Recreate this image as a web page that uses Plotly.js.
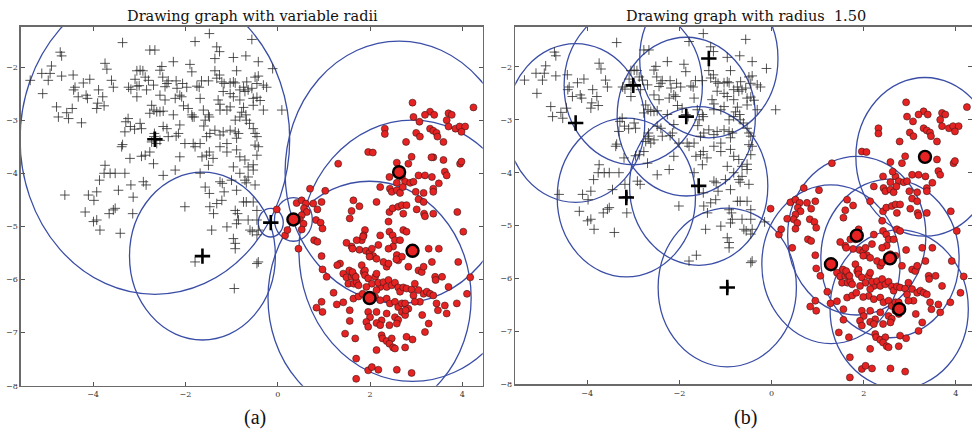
<!DOCTYPE html>
<html>
<head>
<meta charset="utf-8">
<script src="https://cdn.plot.ly/plotly-3.0.1.min.js"></script>
<style>html,body{margin:0;padding:0;background:#fff;}#chart{width:972px;height:434px;}</style>
</head>
<body>
<div id="chart"></div>
<script>
// ---- data: class "+" points (x, y) ----
const plusX = [-1.48,-3.36,-1.79,-0.56,-1.32,-1.26,-2.77,-2.66,-4.71,-4.68,-1.36,-0.96,-0.69,-0.42,-2.26,-1.90,-3.74,-4.90,-0.11,-2.51,
-5.36,-5.11,-4.93,-4.97,-4.68,-4.43,-4.39,-4.42,-4.21,-4.07,-4.15,-4.12,-5.09,-3.70,-3.60,-3.56,-3.88,-3.79,-3.05,-2.98,-2.92,-3.09,-3.23,-3.18,-3.05,-2.87,-2.80,-2.69,-2.84,-2.55,-2.49,-2.40,-2.44,-2.37,-2.20,-2.18,-2.06,-1.97,-1.86,-1.75,-1.70,-1.65,-1.50,-1.36,-1.32,-1.26,-1.21,-1.16,-1.03,-0.96,-0.92,-0.89,-0.74,-0.67,-0.64,-0.49,-0.42,-0.45,-0.24,-0.31,-0.82,-0.71,-0.56,
-4.79,-4.75,-4.53,-4.57,-4.45,-4.32,-3.92,-3.90,-3.76,-3.05,-2.73,-2.68,-2.62,-2.55,-2.48,-2.77,-2.44,-2.55,-2.22,-2.08,-2.04,-2.26,-2.12,-1.94,-1.86,-1.81,-1.68,-1.50,-1.48,-1.61,-1.29,-1.25,-1.25,-1.18,-1.03,-0.96,-1.03,-1.10,-0.82,-0.74,-0.69,-0.78,-0.53,-0.45,-0.38,-0.31,0.09,-0.53,-0.82,
-4.25,-3.24,-3.29,-3.19,-3.10,-3.31,-3.38,-3.36,-2.98,-2.95,-2.66,-2.68,-2.67,-2.48,-2.40,-2.37,-2.55,-2.62,-2.73,-2.20,-2.15,-2.12,-2.01,-1.83,-1.68,-1.60,-1.57,-1.54,-1.47,-1.36,-1.25,-1.18,-1.03,-0.92,-0.85,-0.89,-1.10,-0.53,-0.49,-0.45,-0.42,-0.49,-0.61,-0.68,-0.92,
-2.77,-2.95,-2.87,-3.20,-2.69,-3.74,-3.76,-3.63,-3.52,-3.31,-2.48,-2.22,-2.12,-1.79,-1.54,-1.48,-1.64,-1.40,-1.50,-1.68,-1.10,-1.25,-0.89,-0.82,-0.71,-0.64,-0.53,-0.45,-0.53,-0.96,-0.82,
-2.91,-2.85,-3.18,-3.13,-3.45,-3.86,-3.92,-3.98,-4.10,-4.61,-1.57,-1.48,-1.20,-1.16,-1.25,-0.71,-0.64,-0.68,-0.74,-0.68,-1.00,-0.89,-0.49,
-4.17,-3.92,-3.99,-3.85,-3.65,-3.56,-3.52,-3.41,-3.14,-2.01,-1.47,-1.39,-1.32,-1.43,-1.21,-1.10,-0.92,-0.87,-0.89,-0.85,-0.64,-0.60,-0.45,-0.42,-0.45,-0.53,
-0.96,-0.92,-0.92,-0.45,-0.45,-0.42,-1.79,-0.94,-0.55,-1.63,-0.15,-3.00,-1.85];
const plusY = [-1.37,-1.54,-1.52,-1.48,-1.62,-1.71,-1.68,-1.68,-1.72,-1.79,-1.84,-1.82,-1.79,-1.90,-1.90,-1.95,-1.93,-1.98,-2.03,-1.99,
-2.25,-2.12,-2.12,-2.25,-2.17,-2.15,-2.38,-2.43,-2.30,-2.23,-2.53,-2.59,-2.50,-2.04,-2.25,-2.38,-2.43,-2.56,-2.07,-2.06,-2.07,-2.23,-2.38,-2.42,-2.36,-2.19,-2.25,-2.34,-2.43,-2.06,-2.19,-2.31,-2.37,-2.26,-2.26,-2.40,-2.31,-2.38,-2.09,-2.36,-2.38,-2.26,-2.26,-2.07,-2.21,-2.15,-2.28,-2.31,-2.30,-2.28,-2.30,-2.07,-2.38,-2.28,-2.43,-2.19,-2.17,-2.31,-2.38,-2.34,-2.43,-2.46,-2.40,
-2.75,-2.94,-2.97,-2.86,-2.78,-2.56,-2.78,-2.68,-2.73,-2.56,-2.72,-2.81,-2.84,-2.84,-2.83,-2.87,-2.62,-2.53,-2.59,-2.56,-2.73,-2.90,-2.53,-2.78,-2.90,-2.94,-2.59,-2.90,-2.94,-2.81,-2.62,-2.70,-2.81,-2.46,-2.50,-2.56,-2.75,-2.81,-2.62,-2.76,-2.90,-2.85,-2.59,-2.57,-2.63,-2.81,-2.81,-2.72,-2.94,
-3.05,-2.97,-3.03,-3.12,-3.17,-3.22,-3.50,-3.46,-3.06,-3.16,-3.36,-3.31,-3.25,-3.12,-3.16,-3.31,-3.38,-3.44,-3.41,-3.30,-3.25,-3.09,-3.44,-3.44,-3.44,-3.11,-3.00,-3.31,-3.25,-3.19,-3.28,-3.22,-3.19,-3.22,-3.25,-3.34,-3.44,-3.16,-3.25,-3.31,-3.50,-3.47,-3.06,-3.00,-3.00,
-3.60,-3.68,-3.66,-3.72,-3.82,-3.85,-4.00,-4.00,-4.00,-4.00,-4.04,-3.94,-3.69,-3.50,-3.66,-3.60,-3.69,-3.72,-3.85,-4.00,-3.60,-3.50,-3.56,-3.69,-3.75,-3.88,-3.84,-3.66,-3.94,-3.88,-4.00,
-4.16,-4.22,-4.22,-4.45,-4.32,-4.13,-4.35,-4.51,-4.41,-4.41,-4.26,-4.38,-4.19,-4.35,-4.16,-4.13,-4.07,-4.18,-4.54,-4.54,-4.13,-4.32,-4.22,
-4.73,-4.88,-4.91,-5.07,-4.76,-4.69,-4.66,-5.13,-4.76,-4.63,-4.63,-4.76,-4.57,-5.07,-4.51,-5.01,-4.70,-4.76,-4.95,-4.88,-4.88,-5.07,-4.88,-5.07,-4.70,-4.54,
-5.23,-5.32,-5.42,-5.16,-5.70,-5.67,-5.67,-6.17,-5.10,-5.56,-4.93,-2.35,-2.94];

// ---- data: class "o" points (x, y) ----
const dotX = [2.92,4.24,3.30,3.39,3.19,2.94,3.70,3.77,3.07,3.66,3.70,3.85,3.94,4.06,3.98,2.32,2.32,3.00,3.08,3.30,3.37,3.44,3.46,3.59,2.78,1.96,2.06,2.90,3.37,3.59,3.95,3.98,1.31,2.58,2.83,3.62,3.66,3.05,3.19,3.34,3.49,2.42,2.69,2.76,2.87,2.94,2.58,2.22,2.43,2.47,2.58,2.65,2.71,2.99,3.16,3.37,3.37,0.70,1.03,3.05,3.16,2.14,1.64,1.77,1.60,1.56,2.42,2.49,2.61,2.69,2.79,3.01,3.17,3.19,3.37,3.89,2.72,2.40,2.72,2.79,2.42,2.49,2.54,2.65,4.02,2.18,2.50,2.40,1.89,1.86,1.82,1.71,1.60,1.77,1.91,1.99,2.07,2.14,1.99,2.58,2.61,2.69,2.36,2.29,2.83,3.05,3.12,3.16,3.27,3.49,3.34,3.91,3.41,3.56,3.42,3.70,4.17,4.10,
1.42,1.49,1.60,1.65,1.53,1.65,1.71,1.75,1.82,1.86,1.89,1.89,1.96,2.11,2.14,2.04,1.92,2.22,2.18,2.14,2.29,2.36,2.40,2.47,2.54,2.61,2.65,2.72,2.79,2.90,2.97,3.05,2.94,3.08,3.16,3.23,3.30,3.37,3.44,3.47,3.66,3.62,3.88,1.21,1.28,1.42,1.56,1.56,0.84,0.95,0.97,1.64,1.75,1.84,2.11,2.22,2.36,2.43,2.54,2.61,2.69,2.76,2.83,2.97,2.69,2.76,2.54,2.61,2.36,2.25,2.14,1.96,2.00,1.92,1.96,2.14,2.22,2.42,2.58,3.13,3.27,3.19,1.68,1.70,2.25,2.27,2.36,2.47,2.42,2.50,2.54,2.14,2.76,2.79,2.92,1.96,2.04,2.18,2.58,2.90,1.70,1.46,
-0.02,0.16,0.21,0.41,0.52,0.61,0.57,0.63,0.52,0.48,0.56,0.52,0.45,0.77,0.86,0.95,0.83,0.93,0.97,0.79,0.86,0.95,0.97,1.06,1.35,1.49,1.62,1.55,1.62,1.69,2.04,2.40,2.22,
0.34,2.63,2.92,1.99,3.33,1.85,2.57,1.29,2.77];
const dotY = [-2.67,-2.76,-2.84,-2.90,-2.90,-2.94,-2.87,-2.90,-3.03,-3.00,-3.12,-3.16,-3.12,-3.12,-3.22,-3.16,-3.26,-3.24,-3.31,-3.16,-3.20,-3.24,-3.31,-3.41,-3.41,-3.60,-3.61,-3.69,-3.70,-3.75,-3.82,-3.78,-3.82,-3.80,-3.82,-3.97,-4.04,-4.04,-4.04,-4.07,-4.19,-4.07,-4.07,-4.16,-4.18,-4.16,-4.18,-4.26,-4.29,-4.35,-4.32,-4.37,-4.26,-4.35,-4.37,-4.29,-4.35,-4.29,-4.33,-4.49,-4.54,-4.54,-4.51,-4.62,-4.71,-4.85,-4.73,-4.66,-4.63,-4.60,-4.60,-4.68,-4.76,-4.81,-4.76,-4.73,-4.76,-4.91,-5.07,-5.10,-5.10,-5.17,-5.26,-5.26,-5.10,-5.35,-5.38,-5.42,-5.07,-5.17,-5.26,-5.26,-5.38,-5.44,-5.46,-5.50,-5.56,-5.61,-5.57,-5.54,-5.64,-5.57,-5.76,-5.67,-5.76,-5.83,-5.86,-5.76,-5.42,-5.42,-5.67,-5.67,-5.95,-5.95,-6.01,-6.14,-5.96,-6.27,
-5.89,-5.96,-5.95,-5.92,-6.08,-6.08,-6.05,-6.11,-5.73,-5.86,-5.83,-5.92,-5.98,-5.95,-5.89,-6.08,-6.14,-6.14,-6.06,-6.20,-6.05,-6.14,-6.01,-6.11,-6.06,-6.15,-6.23,-6.15,-6.17,-6.19,-6.08,-6.20,-6.30,-6.42,-6.27,-6.23,-6.27,-6.30,-6.45,-6.58,-6.64,-6.49,-6.45,-6.25,-6.47,-6.43,-6.58,-6.78,-6.53,-6.42,-6.61,-6.36,-6.32,-6.27,-6.33,-6.39,-6.36,-6.45,-6.42,-6.52,-6.45,-6.45,-6.55,-6.42,-6.61,-6.67,-6.71,-6.76,-6.64,-6.77,-6.61,-6.61,-6.71,-6.80,-6.89,-6.82,-6.86,-6.86,-6.83,-6.67,-6.83,-6.99,-7.11,-7.49,-7.05,-7.11,-7.16,-7.11,-7.21,-7.28,-7.30,-7.33,-7.28,-7.08,-7.13,-7.71,-7.65,-7.70,-7.70,-7.76,-7.87,-7.02,
-4.68,-5.17,-5.07,-4.56,-4.51,-4.57,-4.66,-4.73,-4.79,-4.88,-4.95,-5.06,-5.42,-4.57,-4.68,-4.54,-4.88,-4.93,-5.04,-5.26,-5.29,-5.56,-5.81,-5.95,-5.70,-5.31,-5.42,-5.83,-5.86,-5.95,-5.42,-5.70,-5.17,
-4.87,-3.98,-5.46,-6.35,-3.70,-5.19,-5.62,-5.73,-6.58];

// ---- panel (a): variable radii ----
const aPlusCx = [-2.66,-1.63,-0.15];
const aPlusCy = [-3.36,-5.56,-4.93];
const aPlusR  = [2.92,1.58,0.27];
const aDotCx  = [0.34,2.63,2.92,1.99];
const aDotCy  = [-4.87,-3.98,-5.46,-6.35];
const aDotR   = [0.41,2.47,2.46,2.20];

// ---- panel (b): radius 1.50 ----
const bRadius = 1.5;
const bPlusCx = [-4.25,-3.00,-1.85,-1.36,-3.15,-1.58,-0.96];
const bPlusCy = [-3.06,-2.35,-2.94,-1.84,-4.47,-4.25,-6.17];
const bDotCx  = [3.33,1.85,2.57,1.29,2.77];
const bDotCy  = [-3.70,-5.19,-5.62,-5.73,-6.58];

const titleA = 'Drawing graph with variable radii';
const titleB = 'Drawing graph with radius\u00a0 1.50';
const xTicks = [-4,-2,0,2,4];
const yTicks = [-8,-7,-6,-5,-4,-3,-2];

const BLUE = '#3b4ea6';
const RED = '#e62222';

function pointTraces(xa, ya) {
  return [
    {type:'scatter', mode:'markers', x:plusX, y:plusY, xaxis:xa, yaxis:ya, hoverinfo:'skip',
     marker:{symbol:'cross-thin-open', size:7, color:'#2a2a2a', line:{color:'#2a2a2a', width:0.8}}},
    {type:'scatter', mode:'markers', x:dotX, y:dotY, xaxis:xa, yaxis:ya, hoverinfo:'skip',
     marker:{symbol:'circle', size:7, color:RED, line:{color:'#3a1a1a', width:0.6}}}
  ];
}
function centerTraces(xa, ya, pcx, pcy, dcx, dcy) {
  return [
    {type:'scatter', mode:'markers', x:pcx, y:pcy, xaxis:xa, yaxis:ya, hoverinfo:'skip',
     marker:{symbol:'cross-thin-open', size:11, color:'#000', line:{color:'#000', width:2.6}}},
    {type:'scatter', mode:'markers', x:dcx, y:dcy, xaxis:xa, yaxis:ya, hoverinfo:'skip',
     marker:{symbol:'circle', size:12, color:RED, line:{color:'#000', width:2.4}}}
  ];
}
function circleShapes(xr, yr, cx, cy, rad) {
  return cx.map((c, i) => {
    const r = Array.isArray(rad) ? rad[i] : rad;
    return {type:'circle', xref:xr, yref:yr, x0:c - r, x1:c + r, y0:cy[i] - r, y1:cy[i] + r,
            line:{color:BLUE, width:1.3}, layer:'below'};
  });
}

const data = [].concat(
  pointTraces('x','y'),
  centerTraces('x','y', aPlusCx, aPlusCy, aDotCx, aDotCy),
  pointTraces('x2','y2'),
  centerTraces('x2','y2', bPlusCx, bPlusCy, bDotCx, bDotCy)
);

const axisBase = {showgrid:false, zeroline:false, showline:true, linecolor:'#6a6a6a', linewidth:1.6,
  mirror:'ticks', ticks:'inside', ticklen:4, tickwidth:1, tickcolor:'#555',
  tickfont:{family:'DejaVu Serif', size:8, color:'#333'}};

const shapes = [].concat(
  circleShapes('x','y', aPlusCx, aPlusCy, aPlusR),
  circleShapes('x','y', aDotCx, aDotCy, aDotR),
  circleShapes('x2','y2', bPlusCx, bPlusCy, bRadius),
  circleShapes('x2','y2', bDotCx, bDotCy, bRadius)
);

const layout = {
  width:972, height:434, margin:{l:0, r:0, t:0, b:0},
  paper_bgcolor:'#fff', plot_bgcolor:'#fff', showlegend:false,
  xaxis: Object.assign({}, axisBase, {domain:[0.0216,0.4966], range:[-5.56,4.44], tickvals:xTicks, anchor:'y'}),
  yaxis: Object.assign({}, axisBase, {domain:[0.1113,0.9385], range:[-8,-1.24], tickvals:yTicks, anchor:'x'}),
  xaxis2: Object.assign({}, axisBase, {domain:[0.5301,1], range:[-5.56,4.35], tickvals:xTicks, anchor:'y2'}),
  yaxis2: Object.assign({}, axisBase, {domain:[0.1145,0.9385], range:[-8,-1.24], tickvals:yTicks, anchor:'x2'}),
  shapes: shapes,
  annotations: [
    {text:titleA, xref:'paper', yref:'paper', x:252/972, y:1-16/434, xanchor:'center', yanchor:'middle', showarrow:false,
     font:{family:'DejaVu Serif', size:14.5, color:'#111'}},
    {text:titleB, xref:'paper', yref:'paper', x:746/972, y:1-16/434, xanchor:'center', yanchor:'middle', showarrow:false,
     font:{family:'DejaVu Serif', size:14.5, color:'#111'}},
    {text:'(a)', xref:'paper', yref:'paper', x:255/972, y:1-417/434, xanchor:'center', yanchor:'middle', showarrow:false,
     font:{family:'Liberation Serif', size:20, color:'#111'}},
    {text:'(b)', xref:'paper', yref:'paper', x:745/972, y:1-417/434, xanchor:'center', yanchor:'middle', showarrow:false,
     font:{family:'Liberation Serif', size:20, color:'#111'}}
  ]
};

Plotly.newPlot('chart', data, layout, {staticPlot:true, displayModeBar:false});
</script>
</body>
</html>
